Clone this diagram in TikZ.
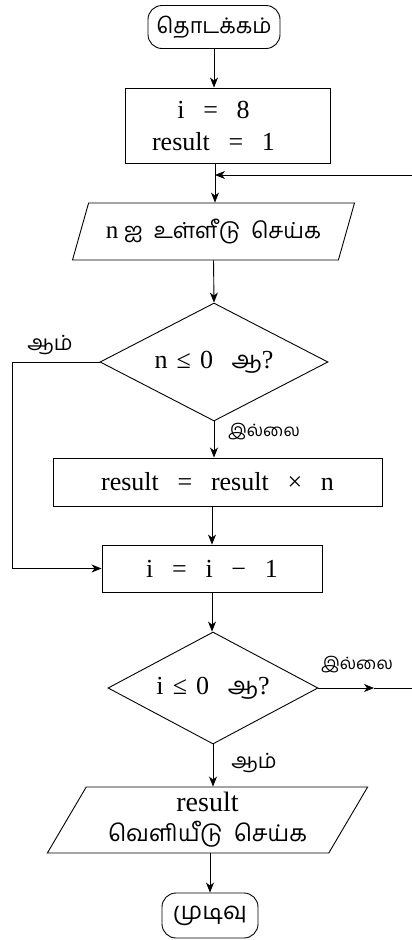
\documentclass[tikz,border=0pt]{standalone}
\usepackage{fontspec}
\setmainfont{Liberation Serif}
\newfontfamily\tamil[Script=Tamil]{Hind Madurai}
\usetikzlibrary{shapes.geometric,arrows.meta}
\newcommand\gp{\hspace{0.72em}}
\tikzset{
  base/.style={draw, line width=0.9pt, inner sep=0pt, align=center},
  term/.style={base, rectangle, rounded corners=14pt},
  proc/.style={base, rectangle},
  io/.style={base, trapezium, trapezium left angle=61, trapezium right angle=119, trapezium stretches=true},
  dec/.style={base, diamond, shape aspect=2},
  arr/.style={line width=0.9pt, -{Stealth[length=10pt,width=8pt,inset=3pt]}},
  ln/.style={line width=0.9pt},
  lab/.style={font=\tamil\fontsize{17}{20}\selectfont},
  yeslab/.style={font=\tamil\fontsize{21}{22}\selectfont},
  big/.style={font=\fontsize{26}{32}\selectfont},
  tbig/.style={font=\tamil\fontsize{21.5}{24}\selectfont},
}
\begin{document}
\begin{tikzpicture}[x=1pt,y=-1pt]
\useasboundingbox (0,0) rectangle (412,940);
\node[term, tbig, minimum width=132pt, minimum height=43pt] (start) at (214,27) {தொடக்கம்};
\node[proc, big, minimum width=205pt, minimum height=75pt] (init) at (227.5,125.5) {i\gp=\gp8\hspace*{28pt}\\result\gp=\gp1\hspace*{28pt}};
\coordinate (m1) at (215,175);
\coordinate (loopin) at (412,175);
\node[io, minimum width=283pt, minimum height=57pt, font=\fontsize{22}{24}\selectfont] (in) at (213.5,231.5) {{\fontsize{25}{26}\selectfont n} {\tamil ஐ\ \ உள்ளீடு\ \ செய்க}};
\node[dec, minimum width=228pt, minimum height=118pt, big] (d1) at (214,362) {n\hspace{0.35em}≤\hspace{0.35em}0\gp{\tamil\fontsize{24}{26}\selectfont ஆ}?};
\coordinate (lc) at (12,362);
\node[proc, big, minimum width=329pt, minimum height=48pt] (mul) at (217.5,482) {result\gp=\gp result\gp×\gp n};
\node[proc, big, minimum width=220pt, minimum height=47pt] (dec) at (212,568.5) {i\gp=\gp i\gp−\gp1};
\node[dec, minimum width=210pt, minimum height=112pt, big] (d2) at (213,688) {i\hspace{0.35em}≤\hspace{0.35em}0\gp{\tamil\fontsize{24}{26}\selectfont ஆ}?};
\coordinate (xm) at (374,688);
\coordinate (xr) at (412,688);
\node[io, minimum width=321pt, minimum height=66pt, font=\fontsize{28}{32}\selectfont, trapezium left angle=60, trapezium right angle=120] (out) at (207.5,820) {result\\[-2pt]{\tamil\fontsize{23}{24}\selectfont வெளியீடு\ \ செய்க}};
\node[term, font=\tamil\fontsize{24}{26}\selectfont, minimum width=96pt, minimum height=45pt] (end) at (210,915.5) {முடிவு};

\draw[arr] (start.south) -- (start.south |- init.north);
\draw[arr] (m1 |- init.south) -- (m1 |- in.north);
\draw[arr] (loopin) -- (m1);
\draw[arr] (in.south) -- (d1.north);
\draw[arr] (d1.west) -- (lc) |- (dec.west);
\node[yeslab] (yes1) at (50,345) {ஆம்};
\draw[arr] (d1.south) -- (d1.south |- mul.north);
\node[lab] (no1) at (264,432) {இல்லை};
\draw[arr] (dec.north |- mul.south) -- (dec.north);
\draw[arr] (dec.south) -- (dec.south |- d2.north);
\draw[arr] (d2.east) -- (xm);
\draw[ln] (xm) -- (xr);
\node[lab] (no2) at (357,665) {இல்லை};
\draw[arr] (d2.south) -- (d2.south |- out.north);
\node[yeslab] (yes2) at (254,763) {ஆம்};
\draw[arr] (end.north |- out.south) -- (end.north);
\end{tikzpicture}
\end{document}
